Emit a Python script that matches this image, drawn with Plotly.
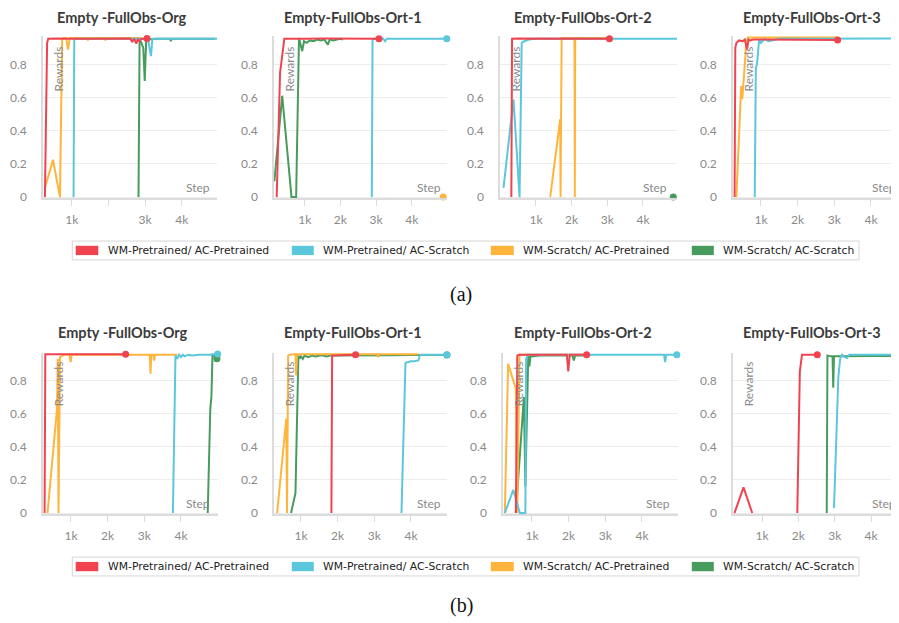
import plotly.graph_objects as go

# ---------------- data (x = training step, y = reward) ----------------
SERIES_NAMES = ["WM-Pretrained/ AC-Pretrained", "WM-Pretrained/ AC-Scratch",
                "WM-Scratch/ AC-Pretrained", "WM-Scratch/ AC-Scratch"]
PANEL_TITLES = ["Empty -FullObs-Org", "Empty-FullObs-Ort-1",
                "Empty-FullObs-Ort-2", "Empty-FullObs-Ort-3"]
CAPTIONS = ["(a)", "(b)"]
X_TICK_VALS = [1000, 2000, 3000, 4000]
X_TICK_TEXT = ["1k", "2k", "3k", "4k"]
X_TICK_TEXT_A1 = ["1k", "", "3k", "4k"]
Y_TICK_VALS = [0, 0.2, 0.4, 0.6, 0.8]
Y_TICK_TEXT = ["0", "0.2", "0.4", "0.6", "0.8"]

# ----- row (a), panel 1
A1_RED_X = [270, 300, 330, 360, 600, 1000, 1500, 2000, 2400, 2600, 2650, 2700, 2760, 2800, 2850, 2900, 3050]
A1_RED_Y = [0, 0.55, 0.93, 0.955, 0.957, 0.955, 0.957, 0.955, 0.956, 0.955, 0.935, 0.955, 0.925, 0.95, 0.94, 0.955, 0.957]
A1_CYAN_X = [1050, 1070, 1100, 1500, 2000, 2500, 2900, 3000, 3080, 3120, 3160, 3200, 3400, 4000, 4500, 4960]
A1_CYAN_Y = [0, 0.95, 0.955, 0.955, 0.955, 0.955, 0.955, 0.95, 0.955, 0.90, 0.85, 0.955, 0.955, 0.955, 0.955, 0.955]
A1_ORANGE_X = [270, 490, 680, 740, 780, 850, 900, 950, 1200, 1420, 1440, 1460, 1900, 1920, 1940, 2500, 2900]
A1_ORANGE_Y = [0.055, 0.225, 0.0, 0.95, 0.96, 0.96, 0.89, 0.96, 0.96, 0.96, 0.945, 0.96, 0.96, 0.945, 0.96, 0.96, 0.96]
A1_GREEN_X = [2820, 2850, 2900, 2950, 2990, 3030, 3100, 3300, 3500, 3680, 3700, 3720, 4000, 4400, 4800, 4900]
A1_GREEN_Y = [0, 0.95, 0.93, 0.90, 0.70, 0.955, 0.95, 0.955, 0.955, 0.955, 0.94, 0.955, 0.955, 0.955, 0.955, 0.955]

# ----- row (a), panel 2
A2_RED_X = [215, 310, 430, 600, 1000, 1500, 2000, 2500, 3080]
A2_RED_Y = [0, 0.75, 0.955, 0.956, 0.955, 0.956, 0.955, 0.956, 0.955]
A2_CYAN_X = [2880, 2900, 2950, 3200, 3250, 3300, 3600, 4000, 4500, 4980]
A2_CYAN_Y = [0, 0.95, 0.955, 0.955, 0.94, 0.955, 0.955, 0.955, 0.955, 0.955]
A2_ORANGE_X = [4880]
A2_ORANGE_Y = [0]
A2_GREEN_X = [150, 370, 630, 760, 840, 880, 930, 980, 1050, 1150, 1250, 1350, 1450, 1550, 1650, 1700, 1800, 1900, 2000, 2070]
A2_GREEN_Y = [0.095, 0.61, 0.0, 0.0, 0.96, 0.93, 0.88, 0.94, 0.93, 0.945, 0.94, 0.95, 0.945, 0.95, 0.92, 0.95, 0.945, 0.95, 0.955, 0.95]

# ----- row (a), panel 3
A3_RED_X = [310, 330, 500, 1000, 1500, 2000, 2500, 3060]
A3_RED_Y = [0, 0.955, 0.956, 0.955, 0.956, 0.955, 0.956, 0.955]
A3_CYAN_X = [90, 370, 540, 600, 680, 800, 1000, 1500, 2000, 2500, 3000, 3500, 4000, 4500, 4970]
A3_CYAN_Y = [0.056, 0.59, 0.0, 0.93, 0.94, 0.95, 0.955, 0.955, 0.955, 0.955, 0.955, 0.955, 0.955, 0.955, 0.955]
A3_ORANGE_X = [1400, 1680, 1690, 1700, 1720, 2060, 2080, 2090, 2100, 2500, 3000]
A3_ORANGE_Y = [0, 0.47, 0.0, 0.96, 0.96, 0.96, 0.96, 0.0, 0.96, 0.96, 0.96]
A3_GREEN_X = [4850]
A3_GREEN_Y = [0]

# ----- row (a), panel 4
A4_RED_X = [280, 300, 330, 400, 500, 560, 620, 660, 700, 800, 1000, 1500, 2000, 2500, 3090]
A4_RED_Y = [0, 0.9, 0.93, 0.945, 0.94, 0.95, 0.89, 0.95, 0.945, 0.95, 0.95, 0.95, 0.95, 0.948, 0.947]
A4_CYAN_X = [830, 860, 890, 950, 1000, 1100, 1200, 1500, 2000, 2500, 3000, 3500, 4000, 4500, 4800]
A4_CYAN_Y = [0, 0.78, 0.80, 0.95, 0.93, 0.955, 0.94, 0.955, 0.955, 0.955, 0.957, 0.957, 0.957, 0.957, 0.957]
A4_ORANGE_X = [330, 460, 490, 520, 560, 600, 640, 700, 1000, 1500, 2000, 2500, 3100]
A4_ORANGE_Y = [0, 0.67, 0.59, 0.68, 0.85, 0.93, 0.962, 0.962, 0.962, 0.962, 0.962, 0.962, 0.962]
A4_GREEN_X = []
A4_GREEN_Y = []

# ----- row (b), panel 1
B1_RED_X = [280, 290, 300, 500, 1000, 1500, 2000, 2490]
B1_RED_Y = [0, 0.955, 0.957, 0.957, 0.957, 0.957, 0.957, 0.957]
B1_CYAN_X = [3780, 3850, 3900, 3950, 4000, 4050, 4100, 4200, 4300, 4500, 4800, 5000]
B1_CYAN_Y = [0, 0.95, 0.93, 0.955, 0.94, 0.955, 0.945, 0.955, 0.95, 0.955, 0.955, 0.96]
B1_ORANGE_X = [360, 620, 640, 660, 700, 750, 800, 900, 960, 990, 1020, 1500, 2000, 2500, 3000, 3150, 3170, 3190, 3250, 3270, 3290, 3500, 3900]
B1_ORANGE_Y = [0, 0.63, 0.93, 0, 0.94, 0.95, 0.955, 0.955, 0.955, 0.91, 0.955, 0.955, 0.955, 0.955, 0.955, 0.955, 0.84, 0.955, 0.955, 0.92, 0.955, 0.955, 0.955]
B1_GREEN_X = [4730, 4800, 4830, 4860, 4900, 4980]
B1_GREEN_Y = [0, 0.63, 0.70, 0.955, 0.95, 0.93]

# ----- row (b), panel 2
B2_RED_X = [1830, 1850, 1900, 2000, 2200, 2490]
B2_RED_Y = [0, 0.95, 0.95, 0.952, 0.953, 0.955]
B2_CYAN_X = [3740, 3850, 3900, 4000, 4100, 4200, 4250, 4400, 4600, 4800, 4980]
B2_CYAN_Y = [0, 0.905, 0.91, 0.915, 0.915, 0.92, 0.955, 0.955, 0.957, 0.957, 0.955]
B2_ORANGE_X = [350, 580, 600, 620, 650, 700, 800, 850, 870, 890, 950, 1500, 2000, 2500, 3000, 3080, 3100, 3120, 3500, 3900, 4200]
B2_ORANGE_Y = [0, 0.56, 0.57, 0, 0.95, 0.955, 0.958, 0.958, 0.83, 0.958, 0.958, 0.958, 0.958, 0.958, 0.958, 0.958, 0.94, 0.958, 0.958, 0.958, 0.958]
B2_GREEN_X = [730, 850, 930, 960, 1000, 1050, 1100, 1200, 1300, 1400, 1500, 1600, 1700, 1800, 2000, 2500, 3000, 3500, 4000, 4500, 4980]
B2_GREEN_Y = [0, 0.12, 0.95, 0.93, 0.945, 0.93, 0.95, 0.94, 0.95, 0.945, 0.95, 0.95, 0.945, 0.95, 0.95, 0.952, 0.952, 0.952, 0.953, 0.953, 0.953]

# ----- row (b), panel 3
B3_RED_X = [560, 600, 650, 1000, 1500, 1950, 1990, 2030, 2200, 2490]
B3_RED_Y = [0, 0.95, 0.955, 0.955, 0.955, 0.955, 0.855, 0.955, 0.955, 0.955]
B3_CYAN_X = [260, 490, 670, 820, 840, 900, 1000, 1500, 2000, 2500, 3000, 3500, 4000, 4500, 4600, 4630, 4660, 4800, 4950]
B3_CYAN_Y = [0, 0.14, 0, 0, 0.93, 0.955, 0.955, 0.955, 0.955, 0.955, 0.955, 0.955, 0.955, 0.955, 0.955, 0.91, 0.955, 0.955, 0.955]
B3_ORANGE_X = [260, 350, 420, 530, 560, 600, 640, 660, 700, 800, 1500, 2500]
B3_ORANGE_Y = [0, 0.90, 0.85, 0.78, 0.75, 0.0, 0.95, 0.955, 0.955, 0.955, 0.955, 0.955]
B3_GREEN_X = [560, 780, 820, 860, 900, 930, 960, 1000, 1200, 1500, 2000, 2100, 2140, 2180, 2400, 2500]
B3_GREEN_Y = [0, 0.70, 0.16, 0.50, 0.95, 0.885, 0.95, 0.945, 0.95, 0.95, 0.95, 0.95, 0.92, 0.95, 0.95, 0.95]

# ----- row (b), panel 4
B4_RED_X = [240, 490, 730, None, 1970, 2040, 2100, 2300, 2520]
B4_RED_Y = [0, 0.155, 0, None, 0, 0.855, 0.955, 0.955, 0.955]
B4_CYAN_X = [2980, 3100, 3150, 3200, 3280, 3340, 3400, 3500, 4000, 4500, 4800]
B4_CYAN_Y = [0.03, 0.82, 0.93, 0.955, 0.94, 0.935, 0.955, 0.955, 0.955, 0.955, 0.955]
B4_ORANGE_X = []
B4_ORANGE_Y = []
B4_GREEN_X = [2780, 2800, 2900, 2940, 2960, 2980, 3100, 3500, 4000, 4500, 4800]
B4_GREEN_Y = [0, 0.95, 0.945, 0.945, 0.756, 0.945, 0.945, 0.947, 0.947, 0.947, 0.947]

# ---------------- style / layout ----------------
W, H = 899, 623
OFF_X = 8  # page offset of the figure, in screen pixels
OFF_Y = 5
COLORS = ["#F0434F", "#5AC7DC", "#FFB43C", "#479B5C"]  # red, cyan, orange, green
FONT = "Lato, 'Open Sans', sans-serif"
TICK_COLOR = "#8a8a8a"

def fx(p):
    return (p - OFF_X) / W

def fy(p):
    return 1 - (p - OFF_Y) / H

# panel definitions: (title index, row, px domain, x range, tick text, series, end-dot flags, title centre)
PANELS = [
    (0, 0, (43, 217), (218, 4959), X_TICK_TEXT_A1,
     [(A1_RED_X, A1_RED_Y), (A1_CYAN_X, A1_CYAN_Y), (A1_ORANGE_X, A1_ORANGE_Y), (A1_GREEN_X, A1_GREEN_Y)],
     [True, True, False, False], 122),
    (1, 0, (274, 447), (140, 4986), X_TICK_TEXT,
     [(A2_RED_X, A2_RED_Y), (A2_CYAN_X, A2_CYAN_Y), (A2_ORANGE_X, A2_ORANGE_Y), (A2_GREEN_X, A2_GREEN_Y)],
     [True, True, True, False], 352.5),
    (2, 0, (500, 677), (-8, 4954), X_TICK_TEXT,
     [(A3_RED_X, A3_RED_Y), (A3_CYAN_X, A3_CYAN_Y), (A3_ORANGE_X, A3_ORANGE_Y), (A3_GREEN_X, A3_GREEN_Y)],
     [True, True, False, True], 582.5),
    (3, 0, (733, 899), (237, 4764), X_TICK_TEXT,
     [(A4_RED_X, A4_RED_Y), (A4_CYAN_X, A4_CYAN_Y), (A4_ORANGE_X, A4_ORANGE_Y), (A4_GREEN_X, A4_GREEN_Y)],
     [True, False, False, False], 812),
    (0, 1, (43, 218), (237, 5010), X_TICK_TEXT,
     [(B1_RED_X, B1_RED_Y), (B1_CYAN_X, B1_CYAN_Y), (B1_ORANGE_X, B1_ORANGE_Y), (B1_GREEN_X, B1_GREEN_Y)],
     [True, True, False, True], 122.5),
    (1, 1, (274, 447), (265, 4982), X_TICK_TEXT,
     [(B2_RED_X, B2_RED_Y), (B2_CYAN_X, B2_CYAN_Y), (B2_ORANGE_X, B2_ORANGE_Y), (B2_GREEN_X, B2_GREEN_Y)],
     [True, True, False, True], 352.5),
    (2, 1, (503, 678), (210, 4982), X_TICK_TEXT,
     [(B3_RED_X, B3_RED_Y), (B3_CYAN_X, B3_CYAN_Y), (B3_ORANGE_X, B3_ORANGE_Y), (B3_GREEN_X, B3_GREEN_Y)],
     [True, True, False, False], 582.5),
    (3, 1, (733, 899), (200, 4770), X_TICK_TEXT,
     [(B4_RED_X, B4_RED_Y), (B4_CYAN_X, B4_CYAN_Y), (B4_ORANGE_X, B4_ORANGE_Y), (B4_GREEN_X, B4_GREEN_Y)],
     [True, False, False, False], 812),
]

ROW_Y_PX = [(33.2, 197.3), (352.9, 516.3)]
ROW_Y_RANGE = [(-0.008, 0.972), (-0.008, 0.968)]
ROW_TITLE_Y = [14.5, 333]
ROW_REWARDS_Y = [67, 385]
ROW_STEP_Y = [186, 505]
ROW_LEGEND_Y = [(240.3, 259.3), (559.5, 578.5)]
ROW_CAPTION_Y = [294, 608]

fig = go.Figure()
layout = dict(width=W, height=H, margin=dict(l=0, r=0, t=0, b=0),
              paper_bgcolor="white", plot_bgcolor="white", showlegend=False,
              font=dict(family=FONT))
annotations = []
shapes = []

DRAW_ORDER = [3, 2, 1, 0]  # green, orange, cyan, red (red on top)

for i, (ti, row, (x0, x1), xr, ttext, series, dots, tcx) in enumerate(PANELS):
    k = i + 1
    xa = "x" if k == 1 else f"x{k}"
    ya = "y" if k == 1 else f"y{k}"
    xkey = "xaxis" if k == 1 else f"xaxis{k}"
    ykey = "yaxis" if k == 1 else f"yaxis{k}"
    ytop, ybot = ROW_Y_PX[row]
    layout[xkey] = dict(domain=[fx(x0), min(fx(x1), 1.0)], range=list(xr), anchor=ya,
                        tickvals=X_TICK_VALS, ticktext=ttext,
                        ticks="outside", ticklen=6, tickcolor="#dcdcdc", tickwidth=1,
                        showgrid=False, zeroline=False,
                        showline=True, linecolor="#dcdcdc", linewidth=1.5,
                        tickfont=dict(size=12, color=TICK_COLOR, family=FONT),
                        ticklabelstandoff=3)
    layout[ykey] = dict(domain=[fy(ybot), fy(ytop)], range=list(ROW_Y_RANGE[row]), anchor=xa,
                        tickvals=Y_TICK_VALS, ticktext=Y_TICK_TEXT,
                        showgrid=True, gridcolor="#ececec", gridwidth=1, zeroline=False,
                        showline=True, linecolor="#dcdcdc", linewidth=1.5,
                        tickfont=dict(size=12, color=TICK_COLOR, family=FONT),
                        ticklabelstandoff=12)
    for s in DRAW_ORDER:
        sx, sy = series[s]
        if len(sx) == 0:
            continue
        if len(sx) > 1:
            fig.add_trace(go.Scatter(x=sx, y=sy, mode="lines", name=SERIES_NAMES[s],
                                     line=dict(color=COLORS[s], width=2),
                                     xaxis=xa, yaxis=ya, hoverinfo="skip"))
        if dots[s]:
            fig.add_trace(go.Scatter(x=[sx[-1]], y=[sy[-1]], mode="markers", name=SERIES_NAMES[s],
                                     marker=dict(color=COLORS[s], size=7), cliponaxis=False,
                                     xaxis=xa, yaxis=ya, hoverinfo="skip"))
    # title
    annotations.append(dict(text=PANEL_TITLES[ti], x=fx(tcx), y=fy(ROW_TITLE_Y[row]),
                            xref="paper", yref="paper", showarrow=False,
                            xanchor="center", yanchor="middle",
                            font=dict(size=14.5, color="#3b3b3b", family=FONT, weight="bold")))
    # in-plot axis labels
    annotations.append(dict(text="Rewards", x=fx(x0 + 15), y=fy(ROW_REWARDS_Y[row]),
                            xref="paper", yref="paper", showarrow=False, textangle=-90,
                            xanchor="center", yanchor="middle",
                            font=dict(size=12, color="#8a8a8a", family=FONT)))
    step_x = x0 + 155 if x1 < 890 else 884
    annotations.append(dict(text="Step", x=fx(step_x), y=fy(ROW_STEP_Y[row]),
                            xref="paper", yref="paper", showarrow=False,
                            xanchor="center", yanchor="middle",
                            font=dict(size=12, color="#8a8a8a", family=FONT)))

# legends + captions (one per row)
LEGEND_SQ_X = [(75.7, 98.3), (291.8, 313.8), (490.8, 513.8), (691.8, 713.8)]
LEGEND_TXT_X = [106, 321, 521, 721]
for row in range(2):
    lt, lb = ROW_LEGEND_Y[row]
    shapes.append(dict(type="rect", xref="paper", yref="paper",
                       x0=fx(72.3), x1=fx(859), y0=fy(lb), y1=fy(lt),
                       line=dict(color="#d6d6d6", width=1), fillcolor="white", layer="below"))
    cy = (lt + lb) / 2
    for s in range(4):
        sx0, sx1 = LEGEND_SQ_X[s]
        shapes.append(dict(type="rect", xref="paper", yref="paper",
                           x0=fx(sx0), x1=fx(sx1), y0=fy(cy + 4.7), y1=fy(cy - 4.7),
                           line=dict(width=0), fillcolor=COLORS[s]))
        annotations.append(dict(text=SERIES_NAMES[s], x=fx(LEGEND_TXT_X[s]), y=fy(cy),
                                xref="paper", yref="paper", showarrow=False,
                                xanchor="left", yanchor="middle",
                                font=dict(size=10.8, color="#222222", family="'DejaVu Sans'")))
    annotations.append(dict(text=CAPTIONS[row], x=fx(461), y=fy(ROW_CAPTION_Y[row]),
                            xref="paper", yref="paper", showarrow=False,
                            xanchor="center", yanchor="middle",
                            font=dict(size=20, color="#111111", family="'Liberation Serif', serif")))

layout["annotations"] = annotations
layout["shapes"] = shapes
fig.update_layout(**layout)
fig.write_html("out.html")
